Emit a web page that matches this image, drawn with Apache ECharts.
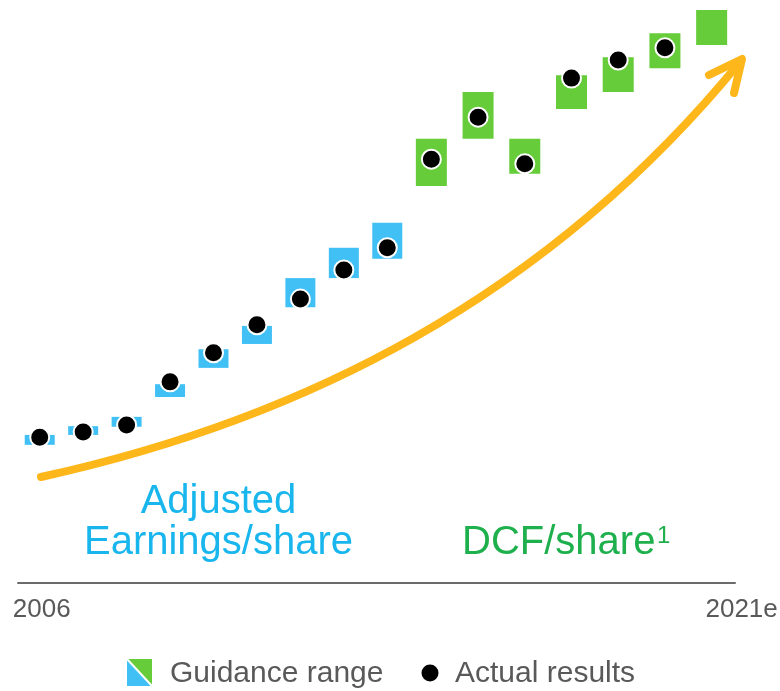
<!DOCTYPE html>
<html>
<head>
<meta charset="utf-8">
<script src="https://cdn.jsdelivr.net/npm/echarts@6/dist/echarts.min.js"></script>
<style>
html,body{margin:0;padding:0;background:#fff;}
#chart{width:780px;height:691px;}
</style>
</head>
<body>
<div id="chart"></div>
<script>
// Adjusted Earnings/share period (guidance ranges + actual results, index units)
const epsYears  = ['2006','2007','2008','2009','2010','2011','2012','2013','2014'];
const epsLow    = [23.7, 25.4, 26.8, 31.9, 36.9, 41.0, 47.3, 52.3, 55.6];
const epsHigh   = [25.4, 26.9, 28.5, 34.1, 40.1, 44.1, 52.3, 57.5, 61.8];
const epsActual = [25.0, 25.9, 27.1, 34.5, 39.5, 44.3, 48.7, 53.7, 57.5];

// DCF/share period
const dcfYears  = ['2015','2016','2017','2018','2019','2020','2021e'];
const dcfLow    = [68.1, 76.2, 70.2, 81.3, 84.2, 88.3, 92.3];
const dcfHigh   = [76.2, 84.2, 76.2, 87.1, 90.2, 94.3, 98.3];
const dcfActual = [72.7, 79.9, 71.9, 86.6, 89.7, 91.8, null];

const shownTickLabels = ['2006', '2021e'];

const BLUE = '#41C0F6', GREEN = '#66CC3A', ORANGE = '#FDB71A';
const TEXT_GRAY = '#595959';
const FONT = '"Liberation Sans", Arial, sans-serif';

function boxRenderer(color, w) {
  return function (params, api) {
    const top = api.coord([api.value(0), api.value(2)]);
    const bot = api.coord([api.value(0), api.value(1)]);
    return {
      type: 'rect',
      shape: { x: top[0] - w / 2, y: top[1], width: w, height: bot[1] - top[1] },
      style: { fill: color }
    };
  };
}

const chart = echarts.init(document.getElementById('chart'), null, { renderer: 'canvas' });

const xAxisCommon = {
  type: 'category',
  boundaryGap: true,
  axisTick: { show: false },
  axisLine: { show: true, lineStyle: { color: '#6b6b6b', width: 2 } },
  splitLine: { show: false }
};

const option = {
  backgroundColor: '#fff',
  animation: false,
  grid: [
    { left: 18, width: 391, top: 0, bottom: 108, containLabel: false, outerBoundsMode: 'none' },
    { left: 408, width: 327, top: 0, bottom: 108, containLabel: false, outerBoundsMode: 'none' }
  ],
  xAxis: [
    Object.assign({}, xAxisCommon, {
      gridIndex: 0, data: epsYears,
      axisLabel: {
        interval: 0, margin: 14,
        formatter: v => shownTickLabels.includes(v) ? '{l|' + v + '}' : '',
        rich: { l: { padding: [0, 0, 0, 4], color: TEXT_GRAY, fontSize: 26, fontFamily: FONT } },
        color: TEXT_GRAY, fontSize: 26, fontFamily: FONT
      }
    }),
    Object.assign({}, xAxisCommon, {
      gridIndex: 1, data: dcfYears,
      axisLabel: {
        interval: 0, margin: 14,
        formatter: v => shownTickLabels.includes(v) ? '{r|' + v + '}' : '',
        rich: { r: { padding: [0, 0, 0, 60], color: TEXT_GRAY, fontSize: 26, fontFamily: FONT } },
        color: TEXT_GRAY, fontSize: 26, fontFamily: FONT
      }
    })
  ],
  yAxis: [
    { type: 'value', gridIndex: 0, min: 0, max: 100, show: false },
    { type: 'value', gridIndex: 1, min: 0, max: 100, show: false }
  ],
  series: [
    {
      name: 'Guidance range', type: 'custom', xAxisIndex: 0, yAxisIndex: 0,
      renderItem: boxRenderer(BLUE, 30),
      encode: { x: 0, y: [1, 2] },
      data: epsYears.map((y, i) => [i, epsLow[i], epsHigh[i]]), z: 2
    },
    {
      name: 'Guidance range', type: 'custom', xAxisIndex: 1, yAxisIndex: 1,
      renderItem: boxRenderer(GREEN, 31),
      encode: { x: 0, y: [1, 2] },
      data: dcfYears.map((y, i) => [i, dcfLow[i], dcfHigh[i]]), z: 2
    },
    {
      name: 'Actual results', type: 'scatter', xAxisIndex: 0, yAxisIndex: 0,
      symbol: 'circle', symbolSize: 19,
      itemStyle: { color: '#000', borderColor: '#fff', borderWidth: 2, opacity: 1 },
      data: epsActual, z: 5
    },
    {
      name: 'Actual results', type: 'scatter', xAxisIndex: 1, yAxisIndex: 1,
      symbol: 'circle', symbolSize: 19,
      itemStyle: { color: '#000', borderColor: '#fff', borderWidth: 2, opacity: 1 },
      data: dcfActual, z: 5
    }
  ],
  graphic: [
    // growth arrow
    {
      type: 'bezierCurve', z: 1,
      shape: { x1: 41, y1: 477, cpx1: 300, cpy1: 420, cpx2: 545, cpy2: 300, x2: 740, y2: 62 },
      style: { stroke: ORANGE, lineWidth: 8, fill: null, lineCap: 'round' }
    },
    {
      type: 'polyline', z: 1,
      shape: { points: [[709, 75], [742, 59], [734, 93]] },
      style: { stroke: ORANGE, lineWidth: 8, fill: null, lineCap: 'round', lineJoin: 'round' }
    },
    // period labels
    {
      type: 'text', x: 218.5, y: 502, z: 3,
      style: { text: 'Adjusted', fill: '#19B6EE', font: '40px ' + FONT, align: 'center', verticalAlign: 'middle' }
    },
    {
      type: 'text', x: 218.5, y: 543, z: 3,
      style: { text: 'Earnings/share', fill: '#19B6EE', font: '40px ' + FONT, align: 'center', verticalAlign: 'middle' }
    },
    {
      type: 'text', x: 462, y: 543, z: 3,
      style: { text: 'DCF/share', fill: '#1FB04E', font: '40px ' + FONT, align: 'left', verticalAlign: 'middle' }
    },
    {
      type: 'text', x: 657, y: 536, z: 3,
      style: { text: '1', fill: '#1FB04E', font: '24px ' + FONT, align: 'left', verticalAlign: 'middle' }
    },
    // legend
    {
      type: 'polygon', shape: { points: [[127, 659], [127, 686], [152, 686]] },
      style: { fill: BLUE }
    },
    {
      type: 'polygon', shape: { points: [[127, 659], [152, 659], [152, 686]] },
      style: { fill: GREEN }
    },
    {
      type: 'line', shape: { x1: 127, y1: 659, x2: 152, y2: 686 },
      style: { stroke: '#fff', lineWidth: 2 }
    },
    {
      type: 'text', x: 170, y: 674,
      style: { text: 'Guidance range', fill: TEXT_GRAY, font: '30px ' + FONT, align: 'left', verticalAlign: 'middle' }
    },
    {
      type: 'circle', shape: { cx: 430, cy: 673, r: 8.5 },
      style: { fill: '#000' }
    },
    {
      type: 'text', x: 455, y: 674,
      style: { text: 'Actual results', fill: TEXT_GRAY, font: '30px ' + FONT, align: 'left', verticalAlign: 'middle' }
    }
  ]
};

chart.setOption(option);
</script>
</body>
</html>
